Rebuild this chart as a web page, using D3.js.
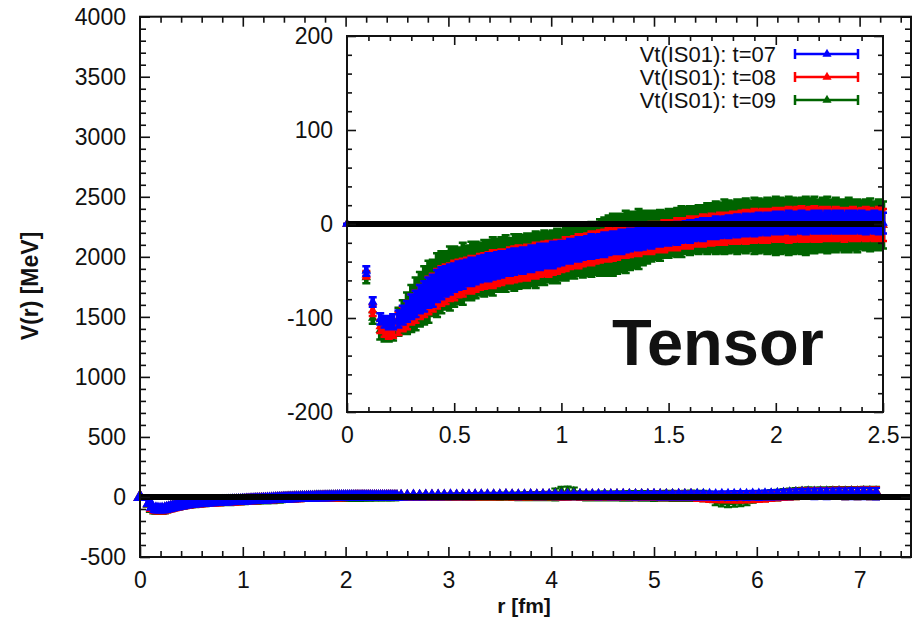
<!DOCTYPE html>
<html>
<head>
<meta charset="utf-8">
<script src="https://cdn.jsdelivr.net/npm/d3@7"></script>
<style>
  html, body { margin: 0; padding: 0; background: #fff; }
  svg { display: block; }
  text { font-family: "Liberation Sans", Arial, Helvetica, sans-serif; fill: #111; }
</style>
</head>
<body>
<svg id="chart" width="916" height="627"></svg>
<script>
// ---- Tensor potential Vt(r) of the IS01 channel for three sink times ----

// separation r [fm] (shared by all three time slices)
const radius = [
  0, 0.09, 0.12, 0.155, 0.175, 0.195, 0.215,
  0.24, 0.26, 0.28, 0.30, 0.32, 0.34, 0.36, 0.38, 0.40, 0.42,
  0.44, 0.46, 0.48, 0.50, 0.52, 0.54, 0.56, 0.58, 0.60, 0.62,
  0.64, 0.66, 0.68, 0.70, 0.72, 0.74, 0.76, 0.78, 0.80, 0.82,
  0.84, 0.86, 0.88, 0.90, 0.92, 0.94, 0.96, 0.98, 1.00, 1.02,
  1.04, 1.06, 1.08, 1.10, 1.12, 1.14, 1.16, 1.18, 1.20, 1.22,
  1.24, 1.26, 1.28, 1.30, 1.32, 1.34, 1.36, 1.38, 1.40, 1.42,
  1.44, 1.46, 1.48, 1.50, 1.52, 1.54, 1.56, 1.58, 1.60, 1.62,
  1.64, 1.66, 1.68, 1.70, 1.72, 1.74, 1.76, 1.78, 1.80, 1.82,
  1.84, 1.86, 1.88, 1.90, 1.92, 1.94, 1.96, 1.98, 2.00, 2.02,
  2.04, 2.06, 2.08, 2.10, 2.12, 2.14, 2.16, 2.18, 2.20, 2.22,
  2.24, 2.26, 2.28, 2.30, 2.32, 2.34, 2.36, 2.38, 2.40, 2.42,
  2.44, 2.46, 2.48, 2.50,
  2.54, 2.60, 2.66, 2.72, 2.78, 2.84, 2.90, 2.96, 3.02, 3.08,
  3.14, 3.20, 3.26, 3.32, 3.38, 3.44, 3.50, 3.56, 3.62, 3.68,
  3.74, 3.80, 3.86, 3.92, 3.98, 4.04, 4.10, 4.16, 4.22, 4.28,
  4.34, 4.40, 4.46, 4.52, 4.58, 4.64, 4.70, 4.76, 4.82, 4.88,
  4.94, 5.00, 5.06, 5.12, 5.18, 5.24, 5.30, 5.36, 5.42, 5.48,
  5.54, 5.60, 5.66, 5.72, 5.78, 5.84, 5.90, 5.96, 6.02, 6.08,
  6.14, 6.20, 6.26, 6.32, 6.38, 6.44, 6.50, 6.56, 6.62, 6.68,
  6.74, 6.80, 6.86, 6.92, 6.98, 7.04, 7.10, 7.16
];

// t = 07 : value and statistical error [MeV]
const vt07 = [
  0, -50, -83, -101, -104, -105, -104,
  -101, -97, -93, -88, -85, -80, -77, -73, -71, -66,
  -63, -61, -59, -57, -55, -54, -52, -51, -50, -48,
  -47, -46, -45, -44, -43, -42, -41, -40, -39, -39,
  -38, -37, -36, -35, -34, -34, -33, -32, -31, -30,
  -29, -28, -27, -26, -25, -24, -24, -23, -22, -21,
  -20, -20, -19, -18, -17, -16, -16, -15, -14, -14,
  -13, -12, -12, -11, -10, -10, -9, -8, -8, -7,
  -6, -6, -5, -5, -4, -4, -3, -3, -2, -2,
  -2, -1, -1, -1, 0, 0, 0, 1, 1, 1,
  1, 2, 1, 2, 2, 1, 2, 2, 2, 1,
  2, 2, 2, 2, 1, 2, 2, 2, 2, 1,
  2, 2, 1, 1,
  3, 4, 5, 4, 5, 6, 5, 6, 7, 6,
  7, 6, 8, 7, 8, 7, 8, 9, 8, 7,
  8, 9, 8, 9, 10, 9, 8, 9, 10, 9,
  9, 10, 9, 10, 9, 10, 11, 10, 9, 10,
  10, 11, 10, 9, 10, 11, 10, 11, 12, 11,
  11, 10, 12, 11, 12, 13, 12, 14, 13, 15,
  16, 18, 20, 22, 24, 25, 26, 25, 27, 26,
  27, 28, 26, 28, 27, 29, 28, 27
];
const err07 = [
  0, 5, 5, 6, 6, 7, 8,
  9, 10, 11, 13, 14, 15, 16, 16, 17, 17,
  17, 16, 16, 15, 15, 15, 14, 15, 14, 14,
  14, 15, 14, 14, 14, 13, 14, 14, 13, 14,
  13, 14, 13, 14, 13, 13, 14, 13, 13, 12,
  13, 12, 13, 12, 12, 13, 12, 12, 13, 12,
  12, 12, 13, 12, 12, 11, 12, 12, 11, 12,
  11, 12, 11, 12, 11, 12, 11, 11, 12, 11,
  11, 12, 11, 11, 12, 11, 11, 12, 11, 12,
  11, 12, 11, 12, 12, 11, 12, 11, 12, 12,
  11, 12, 12, 11, 12, 12, 11, 12, 12, 11,
  12, 11, 12, 12, 11, 12, 12, 11, 12, 12,
  11, 12, 12, 11,
  12, 13, 14, 15, 16, 17, 18, 18, 19, 20,
  20, 21, 22, 22, 23, 23, 24, 24, 25, 25,
  25, 26, 26, 27, 27, 27, 28, 28, 28, 29,
  29, 29, 30, 30, 30, 31, 31, 31, 32, 32,
  32, 32, 33, 33, 33, 34, 34, 34, 35, 35,
  35, 36, 36, 36, 37, 37, 38, 38, 38, 39,
  39, 40, 40, 41, 41, 42, 42, 43, 43, 44,
  44, 45, 45, 46, 46, 47, 47, 48
];

// t = 08
const vt08 = [
  0, -54, -92, -109, -112, -113, -111,
  -106, -101, -97, -91, -88, -83, -80, -76, -73, -69,
  -66, -64, -62, -60, -58, -57, -55, -54, -53, -51,
  -50, -49, -48, -47, -46, -45, -44, -43, -42, -42,
  -41, -40, -39, -38, -37, -37, -36, -35, -34, -32,
  -31, -30, -29, -28, -27, -26, -25, -24, -23, -22,
  -22, -21, -20, -19, -18, -18, -17, -16, -16, -15,
  -14, -14, -13, -12, -12, -11, -10, -10, -9, -8,
  -8, -7, -7, -6, -6, -5, -5, -4, -4, -4,
  -3, -3, -3, -2, -2, -2, -2, -1, -1, -1,
  -1, -1, -1, 0, 0, -1, 0, 0, -1, 0,
  0, -1, 0, 0, -1, 0, 0, -1, 0, 0,
  0, -1, 0, -1,
  1, 2, 3, 2, 3, 4, 3, 4, 5, 4,
  5, 4, 6, 5, 6, 5, 6, 7, 6, 5,
  6, 7, 6, 7, 8, 7, 6, 7, 8, 7,
  7, 8, 7, 8, 7, 8, 9, 8, 7, 8,
  8, 9, 8, 7, 8, 9, 8, 9, 4, 2,
  0, -2, -3, -4, -5, -4, -3, -2, -1, 2,
  8, 12, 16, 20, 24, 27, 29, 28, 30, 29,
  30, 31, 29, 31, 30, 32, 31, 30
];
const err08 = [
  0, 4, 6, 7, 8, 9, 10,
  12, 13, 15, 16, 17, 18, 19, 20, 20, 21,
  21, 21, 20, 21, 20, 20, 19, 20, 19, 19,
  19, 19, 20, 19, 19, 18, 19, 19, 19, 18,
  19, 18, 19, 18, 18, 19, 18, 18, 17, 18,
  17, 17, 18, 17, 17, 18, 17, 17, 17, 18,
  17, 17, 16, 17, 17, 16, 17, 16, 16, 17,
  16, 16, 17, 16, 16, 17, 16, 16, 17, 16,
  16, 17, 16, 17, 16, 17, 17, 16, 17, 17,
  17, 18, 17, 18, 17, 18, 18, 17, 18, 18,
  18, 19, 18, 18, 19, 18, 18, 19, 18, 18,
  18, 17, 18, 17, 18, 17, 18, 17, 17, 18,
  17, 17, 18, 17,
  14, 15, 16, 17, 18, 19, 20, 20, 21, 22,
  22, 23, 24, 24, 25, 25, 26, 26, 27, 27,
  27, 28, 28, 29, 29, 29, 30, 30, 30, 31,
  31, 31, 32, 32, 32, 33, 33, 33, 34, 34,
  34, 34, 35, 35, 35, 36, 36, 36, 38, 40,
  42, 42, 43, 43, 43, 44, 43, 42, 40, 41,
  41, 42, 42, 43, 43, 44, 44, 45, 45, 46,
  46, 47, 47, 48, 48, 49, 49, 50
];

// t = 09
const vt09 = [
  0, -57, -100, -113, -116, -117, -114,
  -104, -99, -95, -90, -85, -80, -76, -72, -68, -65,
  -62, -60, -58, -56, -55, -53, -52, -50, -49, -48,
  -47, -46, -45, -44, -43, -42, -42, -41, -40, -40,
  -39, -38, -38, -37, -36, -35, -35, -34, -33, -32,
  -31, -30, -29, -29, -28, -27, -26, -25, -24, -23,
  -22, -21, -20, -19, -18, -17, -16, -15, -14, -13,
  -12, -12, -11, -10, -9, -9, -8, -7, -7, -6,
  -6, -5, -5, -4, -4, -4, -3, -3, -3, -3,
  -2, -2, -2, -2, -2, -2, -2, -2, -2, -2,
  -2, -2, -2, -2, -2, -2, -2, -1, -2, -1,
  -1, -2, -1, -1, -2, -1, -1, -2, -1, -1,
  -1, -2, -1, -1,
  0, 1, 2, 1, 3, 2, 3, 4, 3, 4,
  5, 4, 5, 6, 5, 6, 5, 7, 6, 5,
  6, 7, 6, 7, 8, 20, 30, 32, 28, 10,
  8, 7, 8, 9, 8, 9, 8, 9, 10, 9,
  9, 8, 9, 10, 9, 8, 9, 10, 9, 8,
  2, -20, -30, -34, -32, -28, -22, -5, 5, 8,
  12, 16, 20, 24, 27, 30, 32, 31, 33, 32,
  33, 34, 32, 34, 33, 35, 34, 33
];
const err09 = [
  0, 6, 6, 10, 9, 8, 10,
  15, 18, 22, 25, 28, 29, 31, 33, 30, 34,
  33, 31, 34, 32, 30, 33, 29, 31, 30, 28,
  30, 29, 31, 28, 29, 30, 27, 30, 29, 28,
  29, 28, 30, 28, 29, 27, 28, 29, 27, 28,
  27, 28, 26, 28, 27, 29, 28, 30, 31, 32,
  33, 32, 31, 33, 31, 30, 32, 29, 28, 27,
  26, 27, 25, 26, 25, 26, 27, 25, 26, 25,
  26, 25, 27, 26, 28, 27, 29, 28, 27, 29,
  28, 29, 27, 30, 29, 28, 30, 29, 31, 30,
  29, 31, 30, 29, 30, 31, 29, 30, 28, 29,
  30, 28, 29, 27, 28, 29, 27, 28, 26, 27,
  28, 26, 27, 25,
  20, 21, 22, 22, 23, 24, 24, 25, 26, 26,
  27, 28, 28, 29, 29, 30, 31, 31, 32, 33,
  33, 34, 34, 35, 36, 50, 55, 56, 50, 36,
  37, 37, 38, 38, 38, 39, 39, 40, 40, 40,
  41, 41, 41, 42, 42, 42, 43, 43, 43, 44,
  44, 50, 50, 52, 50, 50, 48, 44, 44, 44,
  45, 45, 46, 46, 47, 47, 48, 48, 48, 49,
  49, 50, 50, 50, 51, 51, 52, 52
];

const seriesNames  = ["Vt(IS01): t=07", "Vt(IS01): t=08", "Vt(IS01): t=09"];
const seriesColors = ["#0000ff", "#ff0000", "#006400"];

// axis tick values
const mainXTicks  = [0, 1, 2, 3, 4, 5, 6, 7];
const mainYTicks  = [-500, 0, 500, 1000, 1500, 2000, 2500, 3000, 3500, 4000];
const insetXTicks = [0, 0.5, 1, 1.5, 2, 2.5];
const insetYTicks = [-200, -100, 0, 100, 200];

// ---------------------------------------------------------------------------
[vt07, err07, vt08, err08, vt09, err09].forEach((a, i) => {
  if (a.length !== radius.length) throw new Error("array " + i + " has " + a.length + " entries, expected " + radius.length);
});

const series = [
  { name: seriesNames[0], color: seriesColors[0], v: vt07, e: err07 },
  { name: seriesNames[1], color: seriesColors[1], v: vt08, e: err08 },
  { name: seriesNames[2], color: seriesColors[2], v: vt09, e: err09 }
];
const pointsOf = s => radius.map((r, i) => ({ r, v: s.v[i], e: s.e[i] }));

const svg = d3.select("#chart");
const INK = "#111";

function drawFrame(g, x, y, o) {
  const [x0, x1] = x.range();
  const [y0, y1] = y.range(); // y0 bottom, y1 top
  const style = a => a
    .attr("font-size", o.fontSize)
    .attr("font-family", '"Liberation Sans", Arial, sans-serif')
    .attr("color", INK)
    .call(s => s.select(".domain").remove())
    .call(s => s.selectAll(".tick line").attr("stroke-width", 1.6));

  const minorX = d3.range(x.domain()[0], x.domain()[1] + 1e-9, o.minorX)
    .filter(v => !o.xTicks.some(t => Math.abs(t - v) < 1e-6));
  const minorY = d3.range(y.domain()[0], y.domain()[1] + 1e-9, o.minorY)
    .filter(v => !o.yTicks.some(t => Math.abs(t - v) < 1e-6));

  // bottom & left: labelled majors
  g.append("g").attr("transform", `translate(0,${y0})`)
    .call(d3.axisBottom(x).tickValues(o.xTicks).tickSize(-o.major).tickSizeOuter(0)
      .tickPadding(o.padX).tickFormat(d => String(d))).call(style);
  g.append("g").attr("transform", `translate(${x0},0)`)
    .call(d3.axisLeft(y).tickValues(o.yTicks).tickSize(-o.major).tickSizeOuter(0)
      .tickPadding(o.padY).tickFormat(d => String(d))).call(style);
  // top & right: mirrored majors
  g.append("g").attr("transform", `translate(0,${y1})`)
    .call(d3.axisTop(x).tickValues(o.xTicks.filter(v => v > x.domain()[0] && v < x.domain()[1]))
      .tickSize(-o.major).tickSizeOuter(0).tickFormat("")).call(style);
  g.append("g").attr("transform", `translate(${x1},0)`)
    .call(d3.axisRight(y).tickValues(o.yTicks).tickSize(-o.major).tickSizeOuter(0).tickFormat("")).call(style);
  // minor ticks on all four sides
  [[d3.axisBottom(x), y0, minorX, true], [d3.axisTop(x), y1, minorX, true],
   [d3.axisLeft(y), x0, minorY, false], [d3.axisRight(y), x1, minorY, false]].forEach(([ax, pos, vals, horiz]) => {
    g.append("g").attr("transform", horiz ? `translate(0,${pos})` : `translate(${pos},0)`)
      .call(ax.tickValues(vals).tickSize(-o.minor).tickSizeOuter(0).tickFormat("")).call(style);
  });
  // border
  g.append("rect").attr("x", x0).attr("y", y1).attr("width", x1 - x0).attr("height", y0 - y1)
    .attr("fill", "none").attr("stroke", INK).attr("stroke-width", 2);
}

function drawSeries(g, x, y, rMax, o) {
  const tri = d3.symbol().type(d3.symbolTriangle).size(o.marker);
  // t=09 first, t=07 last so the blue points lie on top
  [2, 1, 0].forEach(k => {
    const s = series[k];
    const pts = pointsOf(s).filter(p => p.r <= rMax + 1e-9);
    const bars = d3.path(), caps = d3.path();
    pts.forEach(p => {
      const px = x(p.r), ylo = y(p.v - p.e), yhi = y(p.v + p.e);
      bars.moveTo(px, ylo); bars.lineTo(px, yhi);
      caps.moveTo(px - o.cap, ylo); caps.lineTo(px + o.cap, ylo);
      caps.moveTo(px - o.cap, yhi); caps.lineTo(px + o.cap, yhi);
    });
    const sg = g.append("g");
    sg.append("path").attr("d", bars.toString()).attr("fill", "none")
      .attr("stroke", s.color).attr("stroke-width", o.barWidth);
    sg.append("path").attr("d", caps.toString()).attr("fill", "none")
      .attr("stroke", s.color).attr("stroke-width", o.capWidth);
    sg.selectAll("path.pt").data(pts).join("path").attr("class", "pt")
      .attr("d", tri).attr("transform", p => `translate(${x(p.r)},${y(p.v)})`)
      .attr("fill", s.color);
  });
  // V = 0 reference line
  g.append("line").attr("x1", x.range()[0]).attr("x2", x.range()[1])
    .attr("y1", y(0)).attr("y2", y(0)).attr("stroke", "#000").attr("stroke-width", 6);
}

// ---------------- main panel ----------------
const xMain = d3.scaleLinear().domain([0, 7.5]).range([140, 911]);
const yMain = d3.scaleLinear().domain([-500, 4000]).range([557, 16.7]);
const gMain = svg.append("g");
drawSeries(gMain, xMain, yMain, 7.5, { marker: 80, cap: 4, barWidth: 4, capWidth: 2 });
drawFrame(gMain, xMain, yMain, {
  xTicks: mainXTicks, yTicks: mainYTicks, minorX: 0.2, minorY: 100,
  major: 10, minor: 6, padX: 15, padY: 14, fontSize: 23
});
svg.append("text").attr("x", 524).attr("y", 613).attr("text-anchor", "middle")
  .attr("font-size", 21).attr("font-weight", "bold").text("r [fm]");
svg.append("text").attr("transform", "translate(38,286) rotate(-90)").attr("text-anchor", "middle")
  .attr("font-size", 23).attr("font-weight", "bold").text("V(r) [MeV]");

// ---------------- inset panel ----------------
const xIn = d3.scaleLinear().domain([0, 2.5]).range([347, 883]);
const yIn = d3.scaleLinear().domain([-200, 200]).range([412, 36]);
const gIn = svg.append("g");
gIn.append("rect").attr("x", 347).attr("y", 36).attr("width", 536).attr("height", 376).attr("fill", "#fff");
drawSeries(gIn, xIn, yIn, 2.5, { marker: 40, cap: 4, barWidth: 4.6, capWidth: 2.5 });
drawFrame(gIn, xIn, yIn, {
  xTicks: insetXTicks, yTicks: insetYTicks, minorX: 0.1, minorY: 20,
  major: 9, minor: 5, padX: 15, padY: 14, fontSize: 23
});

// legend
const legend = gIn.append("g");
series.forEach((s, i) => {
  const ly = 54 + i * 23;
  legend.append("text").attr("x", 776).attr("y", ly).attr("dy", "0.35em")
    .attr("text-anchor", "end").attr("font-size", 22).text(s.name);
  legend.append("path")
    .attr("d", `M795,${ly}H858M795,${ly - 5}V${ly + 5}M858,${ly - 5}V${ly + 5}`)
    .attr("stroke", s.color).attr("stroke-width", 2.5).attr("fill", "none");
  legend.append("path").attr("d", d3.symbol().type(d3.symbolTriangle).size(36)())
    .attr("transform", `translate(827,${ly})`).attr("fill", s.color);
});

svg.append("text").attr("x", 612).attr("y", 365).attr("font-size", 65)
  .attr("font-weight", "bold").attr("fill", "#000").text("Tensor");
</script>
</body>
</html>
